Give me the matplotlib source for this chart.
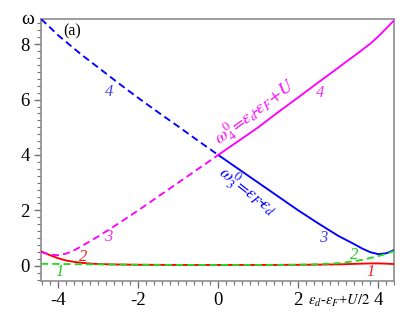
import numpy as np
import matplotlib
matplotlib.use("Agg")
import matplotlib.pyplot as plt
from matplotlib.ticker import MultipleLocator

plt.rcParams['font.family'] = ['Liberation Serif', 'DejaVu Serif']
plt.rcParams['mathtext.fontset'] = 'stix'
plt.rcParams['axes.unicode_minus'] = False

# x = eps_d - eps_F + U/2
x = [-4.43, -4.2, -4.0, -3.8, -3.6, -3.4, -3.2, -3.0, -2.5, -2.0, -1.5, -1.0, -0.5, 0.0,
     0.5, 1.0, 1.5, 2.0, 2.5, 3.0, 3.2, 3.4, 3.6, 3.8, 4.0, 4.2, 4.4]

omega1 = [0.07, 0.068, 0.065, 0.062, 0.058, 0.055, 0.052, 0.05, 0.043, 0.037, 0.033, 0.03, 0.03, 0.03,
          0.03, 0.03, 0.032, 0.038, 0.055, 0.095, 0.125, 0.165, 0.215, 0.28, 0.35, 0.43, 0.53]
omega2 = [0.52, 0.38, 0.27, 0.19, 0.14, 0.105, 0.08, 0.062, 0.045, 0.036, 0.032, 0.03, 0.03, 0.03,
          0.03, 0.03, 0.031, 0.034, 0.04, 0.05, 0.058, 0.068, 0.077, 0.084, 0.085, 0.076, 0.06]
omega3 = [8.91, 8.6, 8.32, 8.08, 7.84, 7.6, 7.38, 7.16, 6.6, 6.06, 5.54, 5.03, 4.51, 4.0,
          3.5, 3.0, 2.5, 2.0, 1.53, 1.08, 0.93, 0.78, 0.62, 0.49, 0.42, 0.45, 0.57]
omega4 = [0.50, 0.40, 0.38, 0.44, 0.56, 0.72, 0.89, 1.06, 1.52, 2.0, 2.5, 3.0, 3.5, 4.0,
          4.5, 5.0, 5.55, 6.08, 6.62, 7.15, 7.37, 7.58, 7.8, 8.02, 8.28, 8.57, 8.87]

xticks = [-4, -2, 0, 2, 4]
yticks = [0, 2, 4, 6, 8]

xa = np.array(x)
left = xa <= 0
right = xa >= 0

W, H = 409, 316
fig = plt.figure(figsize=(W / 100, H / 100), dpi=100)
ax = fig.add_axes([41 / W, (H - 281) / H, (394.3 - 41) / W, (281 - 19) / H])

BLUE = '#0000ff'
MAG = '#ff00ff'
RED = '#ff0000'
GRN = '#22dd22'
lw = 1.35
dash = (0, (3.8, 2.2))

ax.plot(xa, omega2, color=RED, lw=lw, zorder=3)
ax.plot(xa, omega1, color=GRN, lw=lw, ls=dash, zorder=4)
ax.plot(xa[left], np.array(omega3)[left], color=BLUE, lw=lw, ls=dash, zorder=3)
ax.plot(xa[right], np.array(omega3)[right], color=BLUE, lw=lw, zorder=3)
ax.plot(xa[left], np.array(omega4)[left], color=MAG, lw=lw, ls=dash, zorder=3)
ax.plot(xa[right], np.array(omega4)[right], color=MAG, lw=lw, zorder=3)

ax.set_xlim(-4.43, 4.4)
ax.set_ylim(-0.55, 8.91)

for s in ax.spines.values():
    s.set_color('#8c8c8c')
    s.set_linewidth(1.2)

ax.set_xticks(xticks)
ax.set_yticks(yticks)
ax.xaxis.set_minor_locator(MultipleLocator(0.2))
ax.yaxis.set_minor_locator(MultipleLocator(0.25))
ax.tick_params(which='both', direction='out', color='#707070', top=False, right=False,
               labelsize=13.5)
ax.tick_params(which='major', length=5, width=1)
ax.tick_params(which='minor', length=3, width=0.8)
ax.tick_params(axis='x', pad=3)
ax.tick_params(axis='y', pad=3)

# axis labels
fig.text(28 / W, 1 - 19 / H, 'ω', ha='center', va='center', fontsize=14)
fig.text(339 / W, 1 - 301 / H, r'$\varepsilon_d$-$\varepsilon_F$+$U/2$', ha='center', va='center',
         fontsize=10.5)

# panel label
ax.text(-3.65, 8.45, '(a)', ha='center', va='center', fontsize=11.5)

# curve labels
def lab(px, py, s, c, **kw):
    fig.text(px / W, 1 - py / H, s, color=c, ha='center', va='center', fontsize=12,
             style='italic', **kw)

lab(109, 92, '4', '#4040ee')
lab(320, 93, '4', '#ee33ee')
lab(108, 237, '3', '#ee33ee')
lab(323, 238, '3', '#4040ee')
lab(83, 257, '2', '#ee2020')
lab(60, 272, '1', '#22cc22')
lab(354, 255, '2', '#22cc22')
lab(371, 272, '1', '#ee2020')

fig.text(255 / W, 1 - 112 / H, r'$\omega_4^0\!=\!\varepsilon_d\!$-$\!\varepsilon_F\!+\!U$',
         color=MAG, ha='center', va='center', fontsize=13, rotation=37)
fig.text(248 / W, 1 - 191 / H, r'$\omega_3^0\!=\!\varepsilon_F\!$-$\!\varepsilon_d$',
         color=BLUE, ha='center', va='center', fontsize=13, rotation=-38)

fig.savefig('out.png', dpi=100)
